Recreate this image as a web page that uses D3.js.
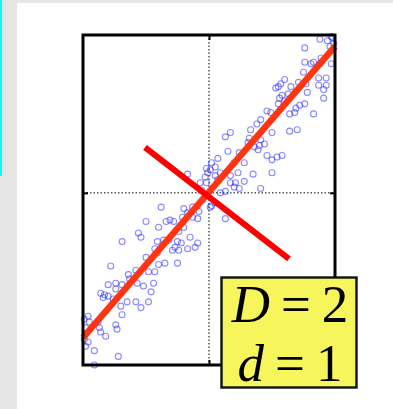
<!DOCTYPE html>
<html>
<head>
<meta charset="utf-8">
<script src="https://cdn.jsdelivr.net/npm/d3@7"></script>
<style>
  html, body { margin: 0; padding: 0; background: #e6e6e6; }
  svg { display: block; }
</style>
</head>
<body>
<svg id="chart" width="393" height="409"></svg>
<script>
// Sample points (x, y), strongly correlated around y = x
const xs = [
  0.76, 0.88, 0.94, 0.98, 0.99, 0.96, 0.97, 0.76, 0.81, 0.83, 0.88, 0.97, 0.89, 0.75, 0.87, 0.93,
  0.71, 0.77, 0.87, 0.93, 0.91, 0.91, 0.60, 0.57, 0.55, 0.53, 0.65, 0.78, 0.58, 0.63, 0.56,
  0.55, 0.60, 0.76, 0.72, 0.69, 0.64, 0.68, 0.83, 0.49, 0.46, 0.41, 0.38, 0.33, 0.50, 0.64, 0.70,
  0.17, 0.13, 0.32, 0.41, 0.44,
  0.15, 0.07, 0.02, 0.05, 0.31, 0.36, 0.40, 0.39, 0.46, 0.50, 0.54, 0.58, 0.28, 0.20, 0.23, 0.35,
  0.50, 0.09, 0.05, 0.01, 0.17, 0.21, 0.28, 0.24, 0.20, 0.41, 0.09, 0.13, 0.02, 0.05, 0.13, 0.24,
  -0.02, 0.07, 0.17,
  -0.17, -0.03, -0.02, -0.01, -0.07, -0.06, -0.05, -0.09, 0.01, -0.38, -0.20, -0.13, -0.08, -0.17,
  -0.21, -0.31, -0.28, -0.34, -0.09, -0.13, -0.50, -0.40, -0.56, -0.54, -0.20, -0.24, -0.32, -0.41,
  -0.36, -0.25, -0.22, -0.15, -0.09, -0.11, -0.69, -0.43, -0.27, -0.24, -0.29, -0.17, -0.50,
  -0.78, -0.41, -0.58, -0.64, -0.63, -0.40, -0.35, -0.25, -0.48, -0.43, -0.80, -0.74, -0.69, -0.74,
  -0.57, -0.52, -0.44, -0.46, -0.86, -0.83, -0.80, -0.84, -0.76, -0.65, -0.58, -0.54, -0.48, -0.70,
  -0.69, -0.96, -0.99, -0.95, -0.88, -0.74, -0.73, -0.87, -0.86, -0.82, -0.98, -0.99, -0.96, -0.98,
  -0.91, -0.72, -0.91
];
const ys = [
  1.01, 1.07, 1.06, 1.08, 1.04, 1.02, 1.09, 0.91, 0.90, 0.91, 0.90, 0.90, 0.94, 0.84, 0.80, 0.80,
  0.77, 0.76, 0.75, 0.75, 0.72, 0.66, 0.79, 0.76, 0.74, 0.73, 0.74, 0.70, 0.68, 0.69, 0.66,
  0.62, 0.64, 0.62, 0.61, 0.59, 0.55, 0.56, 0.55, 0.56, 0.57, 0.51, 0.48, 0.44, 0.42, 0.43, 0.44,
  0.42, 0.39, 0.38, 0.37, 0.34,
  0.29, 0.24, 0.21, 0.18, 0.35, 0.32, 0.33, 0.30, 0.26, 0.23, 0.25, 0.26, 0.21, 0.21, 0.14, 0.13,
  0.14, 0.14, 0.12, 0.16, 0.07, 0.07, 0.08, 0.03, 0.04, 0.03, 0.00, 0.01, -0.09, -0.07, -0.18, 0.28,
  0.17, 0.09, 0.12,
  0.13, 0.11, 0.07, 0.14, 0.07, 0.02, -0.05, -0.09, -0.10, -0.10, -0.11, -0.10, -0.13, -0.14,
  -0.17, -0.19, -0.20, -0.20, -0.18, -0.17, -0.20, -0.24, -0.28, -0.31, -0.24, -0.27, -0.33, -0.34,
  -0.33, -0.34, -0.35, -0.31, -0.35, -0.38, -0.34, -0.39, -0.38, -0.40, -0.40, -0.39, -0.45,
  -0.51, -0.42, -0.54, -0.57, -0.60, -0.50, -0.49, -0.49, -0.55, -0.55, -0.64, -0.63, -0.64, -0.67,
  -0.63, -0.65, -0.63, -0.69, -0.70, -0.71, -0.72, -0.73, -0.74, -0.76, -0.76, -0.80, -0.76, -0.79,
  -0.85, -0.86, -0.88, -0.90, -0.90, -0.92, -0.95, -0.94, -0.97, -1.00, -0.94, -1.02, -1.04, -1.07,
  -1.10, -1.14, -1.20
];

// Principal direction (long line) and the orthogonal direction (short line)
const principal = { x: [-1.0, 1.0], y: [-1.01, 1.02] };
const orthogonal = { x: [-0.508, 0.635], y: [0.317, -0.461] };

// Dimension labels
const labelLines = [
  { name: "D", value: "2" },
  { name: "d", value: "1" }
];

const svg = d3.select("#chart");

// Page background: grey margin, white sheet, cyan marker strip
svg.append("rect").attr("x", 0).attr("y", 0).attr("width", 393).attr("height", 409).attr("fill", "#e6e6e6");
svg.append("rect").attr("x", 17).attr("y", 3).attr("width", 376).attr("height", 406).attr("fill", "#ffffff");
svg.append("rect").attr("x", 0).attr("y", 0).attr("width", 2).attr("height", 176).attr("fill", "#00ffff");

const box = { left: 83, right: 335, top: 35, bottom: 365 };

const x = d3.scaleLinear().domain([-1, 1]).range([box.left, box.right]);
const y = d3.scaleLinear().domain([-1.2, 1.1]).range([box.bottom, box.top]);

const plot = svg.append("g");

// Dotted zero lines
plot.append("line")
  .attr("x1", x(0)).attr("x2", x(0)).attr("y1", box.top).attr("y2", box.bottom)
  .attr("stroke", "#555").attr("stroke-width", 1.5).attr("stroke-dasharray", "1.5,2");
plot.append("line")
  .attr("x1", box.left).attr("x2", box.right).attr("y1", y(0)).attr("y2", y(0))
  .attr("stroke", "#555").attr("stroke-width", 1.5).attr("stroke-dasharray", "1.5,2");

// Centre ticks on every side, pointing inward
const axisOpts = g => g.call(s => s.select(".domain").remove())
  .call(s => s.selectAll(".tick text").remove())
  .call(s => s.selectAll(".tick line").attr("stroke", "#000").attr("stroke-width", 2));
plot.append("g").attr("transform", `translate(0,${box.bottom})`)
  .call(d3.axisTop(x).tickValues([0]).tickSize(5)).call(axisOpts);
plot.append("g").attr("transform", `translate(0,${box.top})`)
  .call(d3.axisBottom(x).tickValues([0]).tickSize(5)).call(axisOpts);
plot.append("g").attr("transform", `translate(${box.left},0)`)
  .call(d3.axisRight(y).tickValues([0]).tickSize(5)).call(axisOpts);
plot.append("g").attr("transform", `translate(${box.right},0)`)
  .call(d3.axisLeft(y).tickValues([0]).tickSize(5)).call(axisOpts);

// Scatter of samples
const pts = xs.map((v, i) => ({ x: v, y: ys[i] }));
plot.append("g").selectAll("circle").data(pts).join("circle")
  .attr("cx", d => x(d.x)).attr("cy", d => y(d.y)).attr("r", 3)
  .attr("fill", "none").attr("stroke", "#2a2aff").attr("stroke-opacity", 0.55).attr("stroke-width", 1.1);

// Principal and orthogonal directions
plot.append("line")
  .attr("x1", x(principal.x[0])).attr("y1", y(principal.y[0]))
  .attr("x2", x(principal.x[1])).attr("y2", y(principal.y[1]))
  .attr("stroke", "#ff3512").attr("stroke-width", 6.5);
plot.append("line")
  .attr("x1", x(orthogonal.x[0])).attr("y1", y(orthogonal.y[0]))
  .attr("x2", x(orthogonal.x[1])).attr("y2", y(orthogonal.y[1]))
  .attr("stroke", "#ff0000").attr("stroke-width", 6);

// Frame
plot.append("rect")
  .attr("x", box.left).attr("y", box.top)
  .attr("width", box.right - box.left).attr("height", box.bottom - box.top)
  .attr("fill", "none").attr("stroke", "#000").attr("stroke-width", 3);

// Label box
const lab = svg.append("g");
lab.append("rect")
  .attr("x", 221.5).attr("y", 277.5).attr("width", 135).attr("height", 110)
  .attr("fill", "#f6f65c").attr("stroke", "#111").attr("stroke-width", 2.4);

labelLines.forEach((l, i) => {
  const t = lab.append("text")
    .attr("x", 290).attr("y", 322 + i * 59)
    .attr("text-anchor", "middle")
    .attr("font-family", "'Liberation Serif', 'Times New Roman', serif")
    .attr("font-size", 53).attr("fill", "#000");
  t.append("tspan").attr("font-style", "italic").text(l.name);
  t.append("tspan").attr("dx", 11).text("=");
  t.append("tspan").attr("dx", 11).text(l.value);
});
</script>
</body>
</html>
